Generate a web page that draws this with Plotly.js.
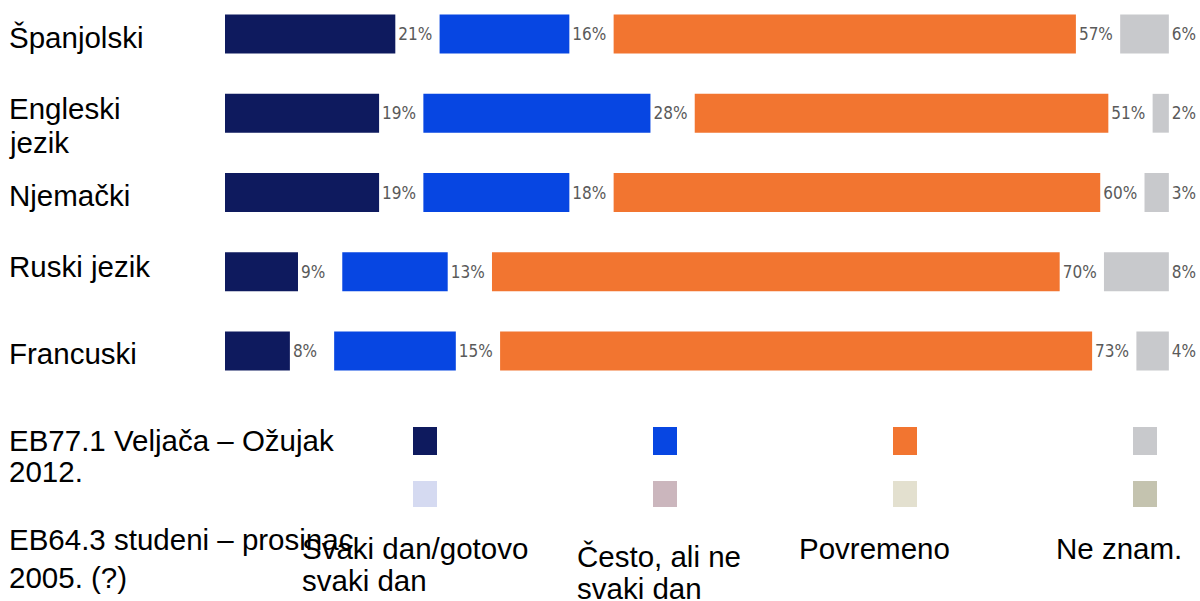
<!DOCTYPE html>
<html>
<head>
<meta charset="utf-8">
<script src="https://cdn.plot.ly/plotly-3.0.1.min.js"></script>
<style>html,body{margin:0;padding:0;background:#fff;}#chart{width:1200px;height:601px;}</style>
</head>
<body>
<div id="chart"></div>
<script>
// ---- data ----
const categories = ['Španjolski', 'Engleski jezik', 'Njemački', 'Ruski jezik', 'Francuski'];
const categoryLabels = ['Španjolski', 'Engleski<br>jezik', 'Njemački', 'Ruski jezik', 'Francuski'];
const seriesNames = ['Svaki dan/gotovo svaki dan', 'Često, ali ne svaki dan', 'Povremeno', 'Ne znam.'];
const seriesLabels = ['Svaki dan/gotovo<br>svaki dan', 'Često, ali ne<br>svaki dan', 'Povremeno', 'Ne znam.'];
const daily = [21, 19, 19, 9, 8];
const often = [16, 28, 18, 13, 15];
const occasionally = [57, 51, 60, 70, 73];
const dontKnow = [6, 2, 3, 8, 4];
const waveLabels = ['EB77.1 Veljača – Ožujak<br>2012.', 'EB64.3 studeni – prosinac<br>2005. (?)'];

// ---- style ----
const colors2012 = ['#0e1a5e', '#0746e2', '#f27530', '#c8c9cc'];
const colors2005 = ['#d5daf1', '#cbb6bd', '#e3e0cf', '#c4c3af'];
const GAP = 5.46;
const FONT = 'Liberation Sans, Arial, sans-serif';
const FS = 29.5;

const W = 1200, H = 601;
const M = {l: 225, r: 2, t: 0, b: 201};
const PW = W - M.l - M.r, PH = H - M.t - M.b;
const px2x = p => (p - M.l) / PW;
const py2y = p => 1 - (p - M.t) / PH;

const series = [daily, often, occasionally, dontKnow];
const bases = series.map((s, si) => s.map((_, ci) => {
  let b = 0;
  for (let k = 0; k < si; k++) b += series[k][ci] + GAP;
  return b;
}));

const traces = series.map((vals, si) => ({
  type: 'bar',
  orientation: 'h',
  name: seriesNames[si],
  y: categories,
  x: vals,
  base: bases[si],
  width: 0.49,
  marker: {color: colors2012[si], line: {width: 0}},
  text: vals.map(v => v + '%'),
  textposition: 'outside',
  constraintext: 'none',
  cliponaxis: false,
  textfont: {family: 'Liberation Sans Narrow, DejaVu Sans Condensed, sans-serif', size: 17, color: '#5a5a5a'},
  hoverinfo: 'skip',
  showlegend: false
}));

const annotations = [];
const shapes = [];
function addLines(text, xPx, yPxFirst, lineH) {
  text.split('<br>').forEach((line, i) => {
    annotations.push({
      xref: 'paper', yref: 'paper',
      x: px2x(xPx), y: py2y(yPxFirst + i * lineH),
      xanchor: 'left', yanchor: 'middle',
      text: line, showarrow: false,
      font: {family: FONT, size: FS, color: '#000'}
    });
  });
}
// category labels
const catLabelY = [37, 108, 195, 266, 353];
categoryLabels.forEach((c, i) => addLines(c, 7, catLabelY[i], 34));

// legend: wave labels
addLines(waveLabels[0], 7, 440, 31);
addLines(waveLabels[1], 7, 539, 38);
// legend: series labels
const legX = [300, 575, 797, 1054];
const legY = [548, 556, 548, 548];
seriesLabels.forEach((s, i) => addLines(s, legX[i], legY[i], 32));
// legend swatches
const swX = [413, 653, 893, 1133];
swX.forEach((x, i) => {
  shapes.push({type: 'rect', xref: 'paper', yref: 'paper', x0: px2x(x), x1: px2x(x + 24), y0: py2y(427), y1: py2y(455), fillcolor: colors2012[i], line: {width: 0}});
  shapes.push({type: 'rect', xref: 'paper', yref: 'paper', x0: px2x(x), x1: px2x(x + 24), y0: py2y(481), y1: py2y(507), fillcolor: colors2005[i], line: {width: 0}});
});

const layout = {
  width: W, height: H,
  margin: M,
  paper_bgcolor: '#fff', plot_bgcolor: '#fff',
  barmode: 'overlay',
  showlegend: false,
  xaxis: {range: [0, PW / 8.11], showgrid: false, zeroline: false, showticklabels: false, showline: false, fixedrange: true},
  yaxis: {type: 'category', range: [4.618, -0.429], showgrid: false, zeroline: false, showticklabels: false, showline: false, fixedrange: true},
  annotations: annotations,
  shapes: shapes
};

Plotly.newPlot('chart', traces, layout, {staticPlot: true, displayModeBar: false});
</script>
</body>
</html>
